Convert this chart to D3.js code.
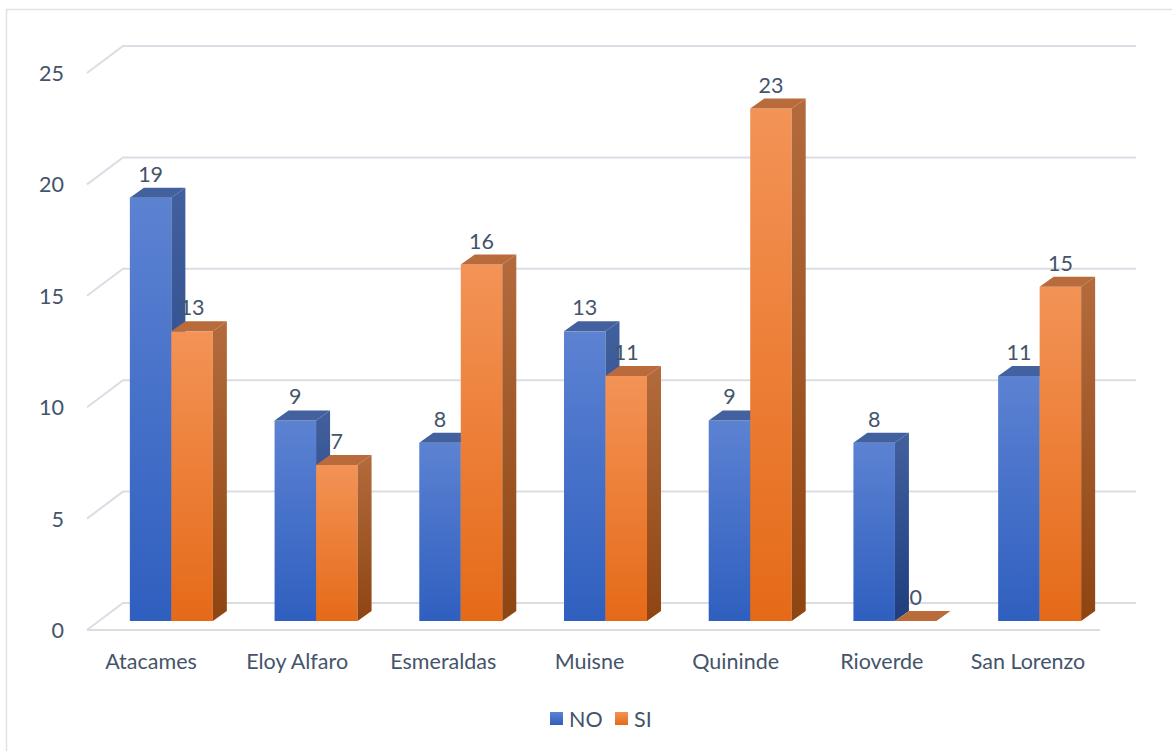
<!DOCTYPE html>
<html>
<head>
<meta charset="utf-8">
<script src="https://cdn.jsdelivr.net/npm/d3@7"></script>
<style>
  html, body { margin: 0; padding: 0; background: #fff; }
  svg { display: block; }
  text { font-family: Lato, "Open Sans", sans-serif; fill: #44546a; }
</style>
</head>
<body>
<svg id="chart" width="1172" height="751"></svg>
<script>
// Respuestas por cantón
const categories = ["Atacames", "Eloy Alfaro", "Esmeraldas", "Muisne", "Quininde", "Rioverde", "San Lorenzo"];
const series = ["NO", "SI"];
const valuesNO = [19, 9, 8, 13, 9, 8, 11];
const valuesSI = [13, 7, 16, 11, 23, 0, 15];
const yTicks = [0, 5, 10, 15, 20, 25];

const svg = d3.select("#chart");
const W = 1172, H = 751;
const FS = 21.5;

// outer frame
svg.append("path")
  .attr("d", `M6.5,${H} V9.5 H${W}`)
  .attr("fill", "none").attr("stroke", "#dde2e9").attr("stroke-width", 1.5);

// 3D layout: front floor edge and the depth of the floor
const floorFront = { x0: 87, x1: 1100, y: 630 };
const depth = { dx: 36, dy: -27 };        // full floor depth
const barOffset = { dx: 12, dy: -9 };     // where the bars stand inside the floor
const barDepth = { dx: 14, dy: -10 };     // thickness of each column

const y = d3.scaleLinear().domain([0, 25]).range([floorFront.y, floorFront.y - 557]);
const x = d3.scaleBand().domain(categories).range([floorFront.x0, floorFront.x1]);
const bw = x.bandwidth();
const inner = d3.scaleBand().domain(series).range([bw * 0.2132, bw * 0.7868]);

const defs = svg.append("defs");
function grad(id, c0, c1) {
  const g = defs.append("linearGradient").attr("id", id)
    .attr("x1", 0).attr("y1", 0).attr("x2", 0).attr("y2", 1);
  g.append("stop").attr("offset", "0%").attr("stop-color", c0);
  g.append("stop").attr("offset", "100%").attr("stop-color", c1);
}
const palette = {
  NO: { front: ["#5c82d2", "#2f5fbf"], side: ["#42609e", "#1f3e7e"], top: "#44619f" },
  SI: { front: ["#f39356", "#e56a18"], side: ["#b36b3d", "#8e4512"], top: "#b96b3c" }
};
series.forEach(s => {
  grad(`front-${s}`, ...palette[s].front);
  grad(`side-${s}`, ...palette[s].side);
});

// gridlines: side wall diagonal + back wall line
const grid = svg.append("g").attr("stroke", "#d9dee5").attr("stroke-width", 2).attr("fill", "none");
yTicks.forEach(t => {
  const yf = y(t);
  const backX1 = floorFront.x1 + depth.dx;
  grid.append("path")
    .attr("d", `M${floorFront.x0},${yf} L${floorFront.x0 + depth.dx},${yf + depth.dy} H${backX1}`);
});
// floor front edge
grid.append("path").attr("d", `M${floorFront.x0},${floorFront.y} H${floorFront.x1}`);

// tick labels
svg.append("g").selectAll("text").data(yTicks).join("text")
  .attr("x", 64).attr("y", d => y(d))
  .attr("text-anchor", "end").attr("dominant-baseline", "central")
  .attr("font-size", FS).text(d => d);

// bars
const rows = [];
categories.forEach((c, i) => {
  rows.push({ c, s: "NO", v: valuesNO[i] });
  rows.push({ c, s: "SI", v: valuesSI[i] });
});
const barsG = svg.append("g");
const bx = d => x(d.c) + inner(d.s) + barOffset.dx;
const yb = v => y(v) + barOffset.dy;
const w = inner.bandwidth();
rows.forEach(d => {
  const x0 = bx(d), x1 = x0 + w;
  const yTop = yb(d.v), yBase = yb(0);
  const g = barsG.append("g");
  if (d.v > 0) {
    g.append("rect").attr("x", x0).attr("y", yTop).attr("width", w).attr("height", yBase - yTop)
      .attr("fill", `url(#front-${d.s})`);
    g.append("path")
      .attr("d", `M${x1},${yTop} L${x1 + barDepth.dx},${yTop + barDepth.dy} L${x1 + barDepth.dx},${yBase + barDepth.dy} L${x1},${yBase} Z`)
      .attr("fill", `url(#side-${d.s})`);
  }
  g.append("path")
    .attr("d", `M${x0},${yTop} L${x0 + barDepth.dx},${yTop + barDepth.dy} L${x1 + barDepth.dx},${yTop + barDepth.dy} L${x1},${yTop} Z`)
    .attr("fill", palette[d.s].top);
});

// value labels
svg.append("g").selectAll("text").data(rows).join("text")
  .attr("x", d => bx(d) + w / 2)
  .attr("y", d => yb(d.v) - 24)
  .attr("text-anchor", "middle").attr("dominant-baseline", "central")
  .attr("font-size", FS).text(d => d.v);

// category labels
const xl = d3.scalePoint().domain(categories).range([151, 1028]);
svg.append("g").selectAll("text").data(categories).join("text")
  .attr("x", d => xl(d)).attr("y", 661)
  .attr("text-anchor", "middle").attr("dominant-baseline", "central")
  .attr("font-size", FS).text(d => d);

// legend
const legend = svg.append("g");
const legendItems = [{ s: "NO", x: 550 }, { s: "SI", x: 615 }];
legendItems.forEach(it => {
  legend.append("rect").attr("x", it.x).attr("y", 712).attr("width", 13).attr("height", 13)
    .attr("fill", `url(#front-${it.s})`);
  legend.append("text").attr("x", it.x + 19).attr("y", 719)
    .attr("dominant-baseline", "central").attr("font-size", FS).text(it.s);
});
</script>
</body>
</html>
